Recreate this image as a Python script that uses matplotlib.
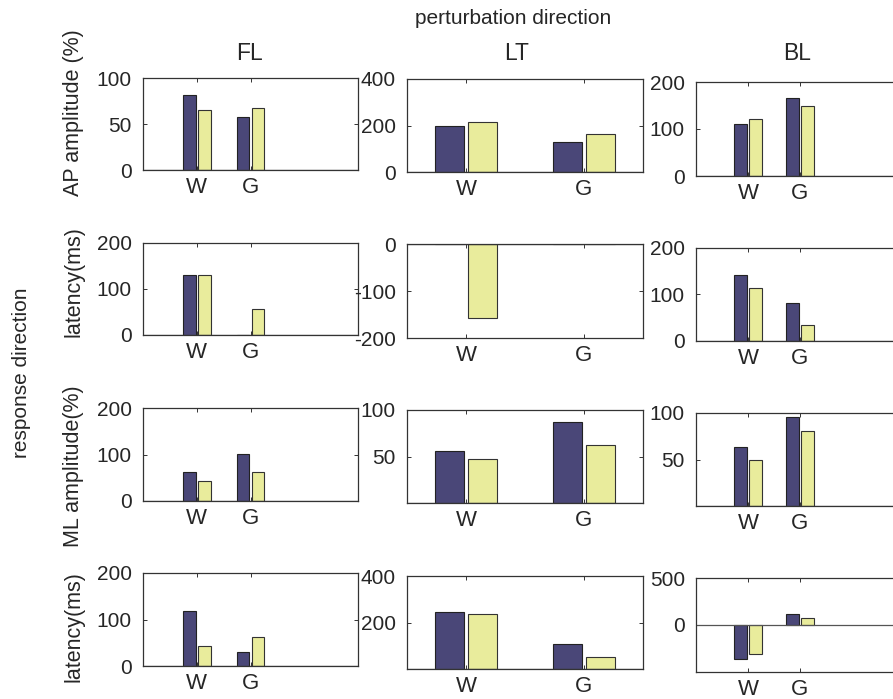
import matplotlib
matplotlib.use('Agg')
import matplotlib.pyplot as plt
import numpy as np

plt.rcParams['font.family'] = ['Liberation Sans', 'DejaVu Sans']
plt.rcParams['axes.unicode_minus'] = False

categories = ['W', 'G']
col_titles = ['FL', 'LT', 'BL']
row_labels = ['AP amplitude (%)', 'latency(ms)', 'ML amplitude(%)', 'latency(ms)']

# values per panel as [W, G], one list per column (FL, LT, BL)
ap_amp_dark = [[82, 58], [196, 130], [110, 165]]
ap_amp_light = [[65, 67], [216, 162], [122, 149]]
ap_lat_dark = [[130, 0], [0, 0], [143, 82]]
ap_lat_light = [[131, 57], [-157, 0], [115, 34]]
ml_amp_dark = [[63, 101], [56, 87], [63, 96]]
ml_amp_light = [[42, 62], [47, 62], [49, 81]]
ml_lat_dark = [[119, 31], [245, 109], [-364, 118]]
ml_lat_light = [[42, 62], [235, 52], [-304, 75]]

dark_rows = [ap_amp_dark, ap_lat_dark, ml_amp_dark, ml_lat_dark]
light_rows = [ap_amp_light, ap_lat_light, ml_amp_light, ml_lat_light]

ylims = [[(0, 100), (0, 400), (0, 200)],
         [(0, 200), (-200, 0), (0, 200)],
         [(0, 200), (0, 100), (0, 100)],
         [(0, 200), (0, 400), (-500, 500)]]
yticks = [[[0, 50, 100], [0, 200, 400], [0, 100, 200]],
          [[0, 100, 200], [-200, -100, 0], [0, 100, 200]],
          [[0, 100, 200], [50, 100], [50, 100]],
          [[0, 100, 200], [200, 400], [0, 500]]]
xlims = [(0, 4), (0.5, 2.5), (0, 4)]

# axes boxes in pixels: left, width per column; top, bottom per row/column
W, H = 893, 699
col_x = [(143, 215), (407, 236), (696, 208)]
row_y = [[(78, 170), (79, 172), (82, 176)],
         [(243, 335), (244, 338), (248, 341)],
         [(408, 501), (410, 503), (413, 506)],
         [(573, 666), (576, 669), (578, 672)]]

dark_col = '#4a4778'
light_col = '#e9ec9c'
text_col = '#262626'

fig = plt.figure(figsize=(W / 100, H / 100), dpi=100)

x = np.arange(1, len(categories) + 1)
bw = 0.24
off = 0.14
for r in range(4):
    for c in range(3):
        left, width = col_x[c]
        top, bottom = row_y[r][c]
        ax = fig.add_axes([left / W, 1 - bottom / H, width / W, (bottom - top) / H])
        ax.bar(x - off, dark_rows[r][c], bw, color=dark_col, edgecolor='#222222', linewidth=0.8)
        ax.bar(x + off, light_rows[r][c], bw, color=light_col, edgecolor='#333333', linewidth=0.8)
        ax.axhline(0, color='#555555', linewidth=0.9)
        ax.set_xlim(xlims[c])
        ax.set_ylim(ylims[r][c])
        ax.set_xticks(x)
        ax.set_xticklabels(categories)
        ax.set_yticks(yticks[r][c])
        ax.tick_params(direction='in', top=True, right=True, length=3, width=0.7,
                       colors='#333333', labelcolor=text_col, labelsize=15, pad=8)
        ax.tick_params(axis='x', labelsize=16, pad=5)
        for s in ax.spines.values():
            s.set_color('#333333')
            s.set_linewidth(0.9)

for c, t in enumerate(col_titles):
    cx = [250, 517, 797][c]
    fig.text(cx / W, 1 - 54 / H, t, ha='center', va='center', fontsize=16.5, color=text_col)

label_y = [113, 282, 466, 627]
for r, lab in enumerate(row_labels):
    fig.text(74 / W, 1 - label_y[r] / H, lab, rotation=90, ha='center', va='center',
             fontsize=15.5, color=text_col)

fig.text(513 / W, 1 - 18 / H, 'perturbation direction', ha='center', va='center',
         fontsize=15, color=text_col)
fig.text(22 / W, 1 - 373 / H, 'response direction', rotation=90, ha='center', va='center',
         fontsize=15, color=text_col)

fig.savefig('out.png', dpi=100)
